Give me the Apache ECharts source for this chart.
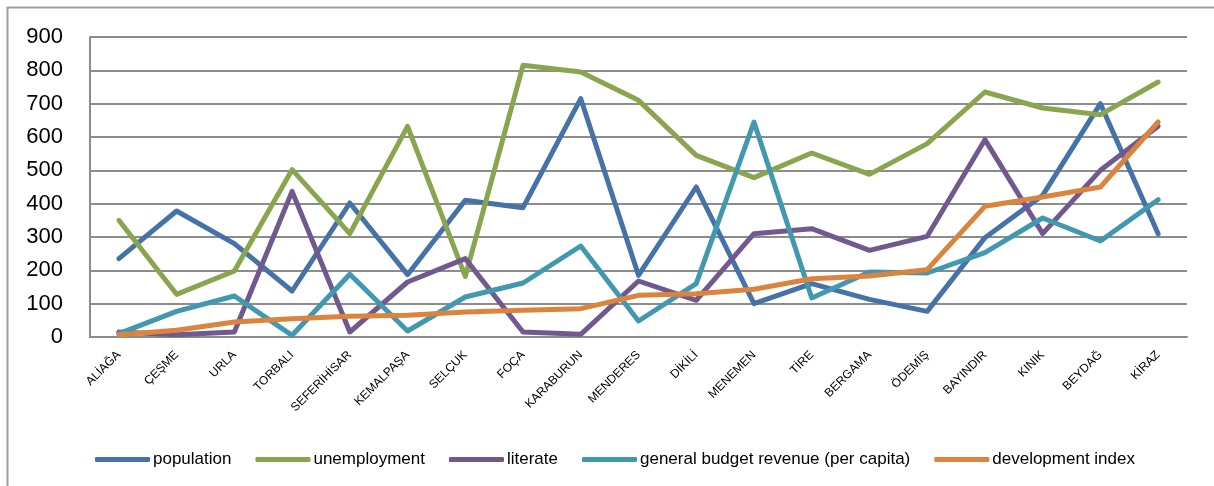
<!DOCTYPE html>
<html>
<head>
<meta charset="utf-8">
<script src="https://cdn.jsdelivr.net/npm/echarts@6/dist/echarts.min.js"></script>
<style>
  html, body { margin: 0; padding: 0; background: #fff; }
  #chart { width: 1214px; height: 486px; }
</style>
</head>
<body>
<div id="chart"></div>
<script>
// Districts of İzmir along the horizontal axis
const districts = ['ALİAĞA', 'ÇEŞME', 'URLA', 'TORBALI', 'SEFERİHİSAR', 'KEMALPAŞA', 'SELÇUK', 'FOÇA',
  'KARABURUN', 'MENDERES', 'DİKİLİ', 'MENEMEN', 'TİRE', 'BERGAMA', 'ÖDEMİŞ', 'BAYINDIR', 'KINIK', 'BEYDAĞ', 'KİRAZ'];

// Rank-style scores per indicator
const population   = [235, 378, 280, 138, 402, 187, 410, 388, 715, 185, 450, 100, 160, 113, 77, 298, 425, 700, 310];
const unemployment = [350, 128, 198, 502, 310, 632, 182, 815, 795, 710, 545, 478, 552, 488, 580, 735, 687, 667, 765];
const literate     = [15, 7, 15, 437, 15, 165, 235, 15, 8, 168, 110, 310, 325, 260, 302, 592, 310, 500, 632];
const budgetRevenue = [10, 77, 123, 5, 188, 18, 120, 162, 273, 48, 160, 645, 117, 195, 192, 253, 357, 288, 412];
const developmentIndex = [7, 20, 45, 55, 62, 65, 75, 80, 85, 125, 130, 143, 175, 183, 202, 392, 420, 450, 645];

const yTicks = { min: 0, max: 900, interval: 100 };

const seriesDefs = [
  { name: 'population', data: population, color: '#4572A7' },
  { name: 'unemployment', data: unemployment, color: '#89A54E' },
  { name: 'literate', data: literate, color: '#71588F' },
  { name: 'general budget revenue (per capita)', data: budgetRevenue, color: '#4198AF' },
  { name: 'development index', data: developmentIndex, color: '#DB843D' }
];

const gridColor = '#8c8c8c';
const fontFamily = '"Liberation Sans", Arial, sans-serif';

const chart = echarts.init(document.getElementById('chart'), null, { renderer: 'canvas' });

chart.setOption({
  animation: false,
  backgroundColor: '#ffffff',
  color: seriesDefs.map(s => s.color),
  graphic: [{
    type: 'rect',
    shape: { x: 7.5, y: 7.5, width: 1230, height: 500 },
    style: { fill: 'none', stroke: '#a0a0a0', lineWidth: 2 },
    silent: true,
    z: -1
  }],
  grid: { left: 90, right: 27, top: 37, bottom: 149, containLabel: false },
  legend: {
    left: 90,
    top: 446,
    itemWidth: 55,
    itemHeight: 5,
    itemGap: 24,
    icon: 'roundRect',
    textStyle: { fontFamily, fontSize: 17, color: '#000', padding: [0, 0, 0, -2] },
    data: seriesDefs.map(s => s.name)
  },
  xAxis: {
    type: 'category',
    data: districts,
    boundaryGap: true,
    axisLine: { show: true, lineStyle: { color: gridColor, width: 2 } },
    axisTick: { show: false },
    axisLabel: {
      rotate: 45,
      margin: 16,
      fontFamily,
      fontSize: 12,
      color: '#000',
      interval: 0
    }
  },
  yAxis: {
    type: 'value',
    min: yTicks.min,
    max: yTicks.max,
    interval: yTicks.interval,
    axisLine: { show: true, lineStyle: { color: gridColor, width: 2 } },
    axisTick: { show: false },
    splitLine: { show: true, lineStyle: { color: gridColor, width: 2 } },
    axisLabel: { fontFamily, fontSize: 22, color: '#000', margin: 27 }
  },
  series: seriesDefs.map(s => ({
    name: s.name,
    type: 'line',
    data: s.data,
    symbol: 'none',
    smooth: false,
    lineStyle: { color: s.color, width: 5, cap: 'round', join: 'round' },
    itemStyle: { color: s.color }
  }))
});
</script>
</body>
</html>
